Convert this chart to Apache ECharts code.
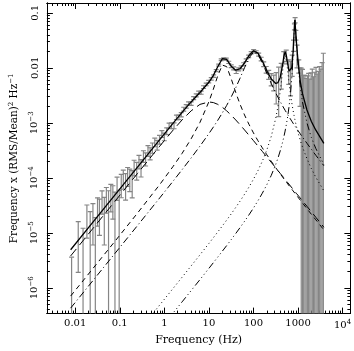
<!DOCTYPE html>
<html>
<head>
<meta charset="utf-8">
<script src="https://cdn.jsdelivr.net/npm/echarts@6/dist/echarts.min.js"></script>
<style>
html, body { margin: 0; padding: 0; background: #fff; }
#main { width: 354px; height: 351px; }
</style>
</head>
<body>
<div id="main"></div>
<script>
// measured spectrum: frequency (Hz), frequency x power, 1 sigma error
const dataFreq = [0.0083, 0.0117, 0.015, 0.0183, 0.0217, 0.025, 0.0283, 0.0317, 0.035, 0.04, 0.045, 0.05, 0.056, 0.063, 0.07, 0.078, 0.087, 0.097,
  0.108, 0.12, 0.135, 0.15, 0.168, 0.19, 0.21, 0.24, 0.27, 0.3, 0.34, 0.38, 0.43, 0.48, 0.54, 0.61, 0.69, 0.78, 0.88,
  1.0, 1.13, 1.28, 1.45, 1.65, 1.87, 2.12, 2.4, 2.72, 3.1, 3.5, 4.0, 4.55, 5.2, 5.9, 6.7, 7.6, 8.7, 9.9,
  11.3, 12.8, 14.6, 16.6, 18.9, 21.5, 24.5, 27.9, 31.7, 36, 41, 46.7, 53, 60.4, 68.7, 78, 89,
  101, 115, 131, 149, 170, 193, 220, 250, 285, 324, 368, 420, 478, 544, 619, 680, 740, 790, 830, 860, 895, 950,
  1040, 1110, 1180, 1260, 1340, 1430, 1520, 1620, 1730, 1840, 1960, 2090, 2230, 2370, 2530, 2690, 2870, 3060, 3260, 3470, 3700]
const dataPow = [1.6e-6, 8.9e-6, 5.6e-6, 2.0e-5, 1.12e-5, 2.0e-5, 7.9e-6, 2.82e-5, 2.5e-5, 3.98e-5, 2.5e-5, 4.47e-5, 2.82e-5, 5.0e-5, 4.47e-5, 2.5e-5, 7.08e-5, 2.5e-5,
  7.94e-5, 1.0e-4, 7.94e-5, 1.12e-4, 1.0e-4, 8.9e-5, 1.585e-4, 1.41e-4, 2.0e-4, 1.585e-4, 2.51e-4, 2.24e-4, 3.16e-4, 2.82e-4, 3.55e-4, 4.47e-4, 3.98e-4, 5.0e-4, 6.31e-4,
  5.62e-4, 7.08e-4, 8.91e-4, 8.91e-4, 8.91e-4, 1.26e-3, 1.26e-3, 1.41e-3, 1.78e-3, 2.0e-3, 2.24e-3, 2.24e-3, 2.82e-3, 3.16e-3, 3.55e-3, 3.55e-3, 4.47e-3, 5.01e-3, 5.62e-3,
  6.31e-3, 7.08e-3, 8.91e-3, 1.12e-2, 1.41e-2, 1.46e-2, 1.44e-2, 1.26e-2, 1.07e-2, 9.8e-3, 8.5e-3, 9.4e-3, 1.02e-2, 1.17e-2, 1.38e-2, 1.62e-2, 1.88e-2,
  2.04e-2, 1.95e-2, 1.75e-2, 1.45e-2, 1.17e-2, 9.3e-3, 7.6e-3, 6.3e-3, 5.6e-3, 5.2e-3, 5.8e-3, 8.1e-3, 1.58e-2, 1.7e-2, 9.5e-3, 8.1e-3, 1.2e-2, 2.6e-2, 5.6e-2, 7.4e-2, 4.0e-2, 1.8e-2,
  1.1e-2, 6.0e-3, 4.4e-3, 3.4e-3, 2.8e-3, 2.3e-3, 1.9e-3, 1.65e-3, 1.45e-3, 1.25e-3, 1.1e-3, 1.0e-3, 9.0e-4, 8.3e-4, 7.4e-4, 6.8e-4, 6.2e-4, 5.6e-4, 5.2e-4, 4.8e-4, 4.4e-4]
const dataErr = [2.0e-6, 7e-6, 6.5e-6, 1.2e-5, 1.3e-5, 1.4e-5, 1.1e-5, 1.5e-5, 1.6e-5, 1.8e-5, 1.9e-5, 2.2e-5, 3.0e-5, 2.6e-5, 2.7e-5, 3.0e-5, 3.2e-5, 3.4e-5,
  3.6e-5, 3.8e-5, 4e-5, 4.2e-5, 4.4e-5, 4.6e-5, 5e-5, 5e-5, 5.5e-5, 5.5e-5, 6e-5, 6e-5, 7e-5, 7e-5, 7.5e-5, 8e-5, 8e-5, 9e-5, 9e-5,
  9e-5, 1.0e-4, 1.0e-4, 1.1e-4, 1.1e-4, 1.2e-4, 1.2e-4, 1.3e-4, 1.4e-4, 1.5e-4, 1.6e-4, 1.7e-4, 1.8e-4, 2e-4, 2.2e-4, 2.4e-4, 2.6e-4, 2.8e-4, 3e-4,
  3.3e-4, 3.6e-4, 4e-4, 4.5e-4, 5e-4, 5.5e-4, 6e-4, 6e-4, 6e-4, 6e-4, 6e-4, 6e-4, 6.5e-4, 7e-4, 7.5e-4, 8e-4, 9e-4,
  1e-3, 1e-3, 1.1e-3, 1.1e-3, 1.2e-3, 1.3e-3, 1.4e-3, 1.6e-3, 1.8e-3, 3e-3, 4.5e-3, 4e-3, 4e-3, 4e-3, 4.5e-3, 5e-3, 5e-3, 6e-3, 7e-3, 8e-3, 8e-3, 8e-3,
  3.0e-3, 4.0e-3, 5.5e-3, 6.0e-3, 4.5e-3, 5.0e-3, 4.5e-3, 5.5e-3, 6.5e-3, 5.0e-3, 7.0e-3, 8.5e-3, 6.0e-3, 7.5e-3, 9.5e-3, 7.0e-3, 8.0e-3, 1.0e-2, 9.0e-3, 1.2e-2, 1.8e-2]

// fitted model: total and five Lorentzian components, on one frequency grid
const modelFreq = [0.0079, 0.025, 0.079, 0.25, 0.79, 1.58, 2.5, 4, 6.3, 10, 12.6, 15.8, 20, 25, 31.6, 40, 50, 63, 79, 100, 126, 158, 200, 251, 316, 355, 398,
  447, 479, 513, 550, 589, 631, 676, 724, 776, 813, 851, 891, 933, 1000, 1122, 1259, 1585, 1995, 2512, 3800]
const modelTotal = [4.92e-6, 1.56e-5, 4.93e-5, 1.565e-4, 4.96e-4, 9.9e-4, 1.55e-3, 2.40e-3, 3.56e-3, 5.47e-3, 7.29e-3, 1.048e-2, 1.468e-2, 1.43e-2, 1.075e-2, 9.09e-3, 9.64e-3, 1.227e-2, 1.67e-2, 2.045e-2, 1.852e-2, 1.33e-2, 8.83e-3, 6.27e-3, 5.19e-3, 5.41e-3, 6.71e-3,
  1.091e-2, 1.593e-2, 1.962e-2, 1.645e-2, 1.152e-2, 8.71e-3, 8.06e-3, 1.004e-2, 1.964e-2, 4.26e-2, 7.51e-2, 4.2e-2, 2.57e-2, 1.35e-2, 5.69e-3, 3.39e-3, 1.71e-3, 1.06e-3, 7.35e-4, 4.23e-4]
const compBroad = [3.79e-6, 1.2e-5, 3.79e-5, 1.2e-4, 3.77e-4, 7.4e-4, 1.13e-3, 1.655e-3, 2.165e-3, 2.4e-3, 2.337e-3, 2.169e-3, 1.92e-3, 1.655e-3, 1.38e-3, 1.129e-3, 9.23e-4, 7.43e-4, 5.98e-4, 4.75e-4, 3.785e-4, 3.03e-4, 2.39e-4, 1.91e-4, 1.52e-4, 1.35e-4, 1.205e-4,
  1.074e-4, 1.002e-4, 9.36e-5, 8.73e-5, 8.15e-5, 7.6e-5, 7.1e-5, 6.63e-5, 6.18e-5, 5.9e-5, 5.64e-5, 5.39e-5, 5.14e-5, 4.8e-5, 4.28e-5, 3.81e-5, 3.03e-5, 2.41e-5, 1.91e-5, 1.26e-5]
const compLow = [7.06e-7, 2.24e-6, 7.1e-6, 2.28e-5, 7.55e-5, 1.618e-4, 2.78e-4, 5.13e-4, 1.017e-3, 2.42e-3, 4.1e-3, 7.19e-3, 1.123e-2, 1.055e-2, 6.39e-3, 3.574e-3, 2.178e-3, 1.391e-3, 9.44e-4, 6.56e-4, 4.73e-4, 3.51e-4, 2.62e-4, 2.0e-4, 1.53e-4, 1.34e-4, 1.18e-4,
  1.042e-4, 9.66e-5, 8.97e-5, 8.32e-5, 7.73e-5, 7.18e-5, 6.67e-5, 6.21e-5, 5.77e-5, 5.49e-5, 5.24e-5, 4.99e-5, 4.76e-5, 4.42e-5, 3.93e-5, 3.49e-5, 2.75e-5, 2.17e-5, 1.72e-5, 1.13e-5]
const compHump = [4.26e-7, 1.35e-6, 4.27e-6, 1.354e-5, 4.32e-5, 8.74e-5, 1.404e-4, 2.3e-4, 3.77e-4, 6.37e-4, 8.39e-4, 1.111e-3, 1.514e-3, 2.069e-3, 2.946e-3, 4.344e-3, 6.49e-3, 1.007e-2, 1.507e-2, 1.92e-2, 1.75e-2, 1.239e-2, 7.93e-3, 5.2e-3, 3.5e-3, 2.91e-3, 2.44e-3,
  2.056e-3, 1.862e-3, 1.692e-3, 1.538e-3, 1.402e-3, 1.28e-3, 1.171e-3, 1.073e-3, 9.83e-4, 9.28e-4, 8.77e-4, 8.29e-4, 7.84e-4, 7.22e-4, 6.3e-4, 5.52e-4, 4.25e-4, 3.3e-4, 2.57e-4, 1.66e-4]
const compQpoLow = [4.86e-9, 1.54e-8, 4.86e-8, 1.54e-7, 4.87e-7, 9.78e-7, 1.553e-6, 2.5e-6, 3.97e-6, 6.39e-6, 8.14e-6, 1.034e-5, 1.331e-5, 1.697e-5, 2.2e-5, 2.89e-5, 3.76e-5, 5.02e-5, 6.75e-5, 9.42e-5, 1.348e-4, 2.0e-4, 3.23e-4, 5.68e-4, 1.211e-3, 2.0e-3, 3.72e-3,
  8.21e-3, 1.332e-2, 1.703e-2, 1.379e-2, 8.62e-3, 5.26e-3, 3.4e-3, 2.33e-3, 1.672e-3, 1.37e-3, 1.145e-3, 9.68e-4, 8.27e-4, 6.65e-4, 4.82e-4, 3.63e-4, 2.23e-4, 1.47e-4, 1.02e-4, 5.8e-5]
const compQpoHigh = [1.74e-9, 5.5e-9, 1.74e-8, 5.5e-8, 1.74e-7, 3.49e-7, 5.53e-7, 8.89e-7, 1.407e-6, 2.25e-6, 2.86e-6, 3.61e-6, 4.62e-6, 5.84e-6, 7.5e-6, 9.69e-6, 1.242e-5, 1.616e-5, 2.11e-5, 2.82e-5, 3.82e-5, 5.24e-5, 7.51e-5, 1.109e-4, 1.755e-4, 2.29e-4, 3.08e-4,
  4.34e-4, 5.47e-4, 7.08e-4, 9.54e-4, 1.342e-3, 2.02e-3, 3.35e-3, 6.51e-3, 1.687e-2, 4.02e-2, 7.3e-2, 4.01e-2, 2.4e-2, 1.2e-2, 4.5e-3, 2.4e-3, 1.0e-3, 5.4e-4, 3.4e-4, 1.75e-4]

// axis labels (decades)
const xTickValues = [0.01, 0.1, 1, 10, 100, 1000, 10000]
const xTickLabels = ['0.01', '0.1', '1', '10', '100', '1000', '10{sup|4}']
const yTickValues = [0.1, 0.01, 1e-3, 1e-4, 1e-5, 1e-6]
const yTickLabels = ['0.1', '0.01', '10{sup|−3}', '10{sup|−4}', '10{sup|−5}', '10{sup|−6}']

const xRange = [-2.635, 4.175] // log10 of Hz
const yRange = [-6.47, -0.82]

const lg = Math.log10
const fontFam = 'DejaVu Serif'
const ink = '#000'

// the plot runs on linear axes in log10 space, ticks placed by hand
const majorX = xTickValues.map(lg)
const majorY = yTickValues.map(lg)
const minorTicks = function (range) {
	const out = []
	for (let d = Math.floor(range[0]); d <= Math.ceil(range[1]); d++) {
		for (let m = 2; m <= 9; m++) {
			const v = d + lg(m)
			if (v > range[0] && v < range[1]) out.push(v)
		}
	}
	return out
}
const minorX = minorTicks(xRange)
const minorY = minorTicks(yRange)

const labelFor = function (ticks, labels) {
	return function (val) {
		for (let i = 0; i < ticks.length; i++) {
			if (Math.abs(ticks[i] - val) < 1e-6) return labels[i]
		}
		return ''
	}
}
const supRich = {
	sup: { fontFamily: fontFam, fontSize: 7, verticalAlign: 'bottom', padding: [0, 0, 6, 0], color: ink }
}

const makeX = function (pos, ticks, len, withLabel) {
	return {
		type: 'value', position: pos, min: xRange[0], max: xRange[1],
		axisLine: { show: true, onZero: false, lineStyle: { color: ink, width: 1 } },
		splitLine: { show: false },
		axisTick: { show: true, inside: true, length: len, customValues: ticks, lineStyle: { color: ink, width: 1 } },
		axisLabel: withLabel ? {
			show: true, customValues: majorX, formatter: labelFor(majorX, xTickLabels),
			fontFamily: fontFam, fontSize: 10, color: ink, margin: 5, rich: supRich
		} : { show: false }
	}
}
const makeY = function (pos, ticks, len, withLabel) {
	return {
		type: 'value', position: pos, min: yRange[0], max: yRange[1],
		axisLine: { show: true, onZero: false, lineStyle: { color: ink, width: 1 } },
		splitLine: { show: false },
		axisTick: { show: true, inside: true, length: len, customValues: ticks, lineStyle: { color: ink, width: 1 } },
		axisLabel: withLabel ? {
			show: true, customValues: majorY, formatter: labelFor(majorY, yTickLabels), rotate: 90,
			fontFamily: fontFam, fontSize: 10, color: ink, margin: 6, rich: supRich
		} : { show: false }
	}
}

const toXY = function (xs, ys) {
	return xs.map((f, i) => [lg(f), lg(ys[i])])
}

const errData = dataFreq.map((f, i) => {
	const p = dataPow[i], e = dataErr[i]
	const lo = p - e > 0 ? lg(p - e) : yRange[0] - 1
	return [lg(f), lo, lg(p + e)]
})

const renderBar = function (params, api) {
	const top = api.coord([api.value(0), api.value(2)])
	const bot = api.coord([api.value(0), api.value(1)])
	const w = 2.5
	const st = { stroke: '#858585', lineWidth: 1.2 }
	return {
		type: 'group',
		children: [
			{ type: 'line', shape: { x1: top[0], y1: top[1], x2: bot[0], y2: bot[1] }, style: st },
			{ type: 'line', shape: { x1: top[0] - w, y1: top[1], x2: top[0] + w, y2: top[1] }, style: st },
			{ type: 'line', shape: { x1: bot[0] - w, y1: bot[1], x2: bot[0] + w, y2: bot[1] }, style: st }
		]
	}
}

const comp = function (ys, dash) {
	return {
		type: 'line', data: toXY(modelFreq, ys), showSymbol: false, symbol: 'none', clip: true,
		lineStyle: { color: ink, width: 1, type: dash }, z: 3
	}
}

const option = {
	animation: false,
	backgroundColor: '#fff',
	grid: { left: 40, right: 3, top: 3, bottom: 34 },
	xAxis: [
		Object.assign(makeX('bottom', majorX, 6, true), {
			name: 'Frequency (Hz)', nameLocation: 'middle', nameGap: 21,
			nameTextStyle: { fontFamily: fontFam, fontSize: 11, color: ink }
		}),
		makeX('bottom', minorX, 3, false),
		makeX('top', majorX, 6, false),
		makeX('top', minorX, 3, false)
	],
	yAxis: [
		Object.assign(makeY('left', majorY, 6, true), {
			name: 'Frequency x (RMS/Mean){sup|2} Hz{sup|−1}', nameLocation: 'middle', nameGap: 25,
			nameTextStyle: { fontFamily: fontFam, fontSize: 10.5, color: ink, rich: supRich }
		}),
		makeY('left', minorY, 3, false),
		makeY('right', majorY, 6, false),
		makeY('right', minorY, 3, false)
	],
	series: [
		{ type: 'custom', data: errData, renderItem: renderBar, clip: true, z: 1 },
		comp(compBroad, [9, 5]),
		comp(compLow, [5, 4]),
		comp(compHump, [7, 3, 1, 3]),
		comp(compQpoLow, [1, 3]),
		comp(compQpoHigh, [7, 3, 1, 3, 1, 3, 1, 3]),
		{
			type: 'line', data: toXY(modelFreq, modelTotal), showSymbol: false, symbol: 'none', clip: true,
			lineStyle: { color: ink, width: 1.3 }, z: 4
		}
	]
}

const myChart = echarts.init(document.getElementById('main'))
myChart.setOption(option)
</script>
</body>
</html>
